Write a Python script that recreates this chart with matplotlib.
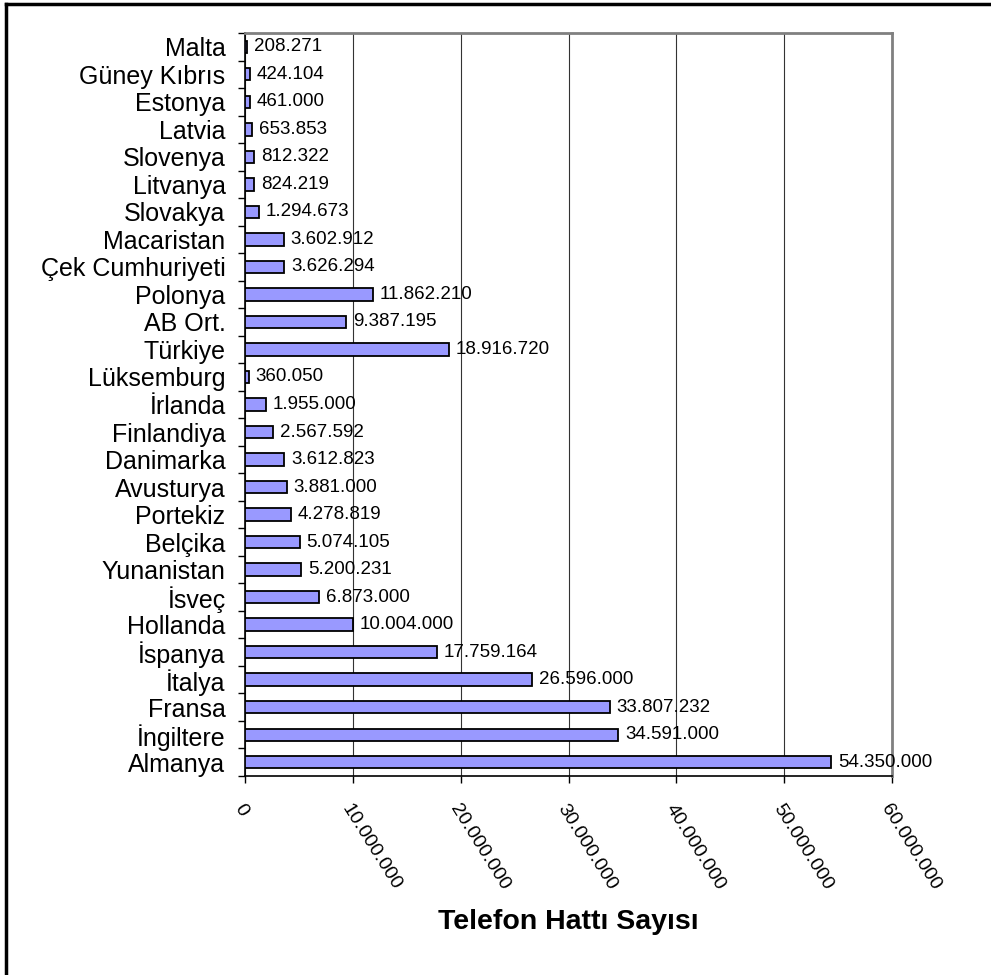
import matplotlib
matplotlib.use("Agg")
import matplotlib.pyplot as plt
from matplotlib.lines import Line2D
import numpy as np

plt.rcParams['font.family'] = ['Liberation Sans', 'DejaVu Sans']

# Countries, bottom to top
countries = ["Almanya", "İngiltere", "Fransa", "İtalya", "İspanya", "Hollanda",
             "İsveç", "Yunanistan", "Belçika", "Portekiz", "Avusturya",
             "Danimarka", "Finlandiya", "İrlanda", "Lüksemburg", "Türkiye",
             "AB Ort.", "Polonya", "Çek Cumhuriyeti", "Macaristan", "Slovakya",
             "Litvanya", "Slovenya", "Latvia", "Estonya", "Güney Kıbrıs", "Malta"]
lines = [54350000, 34591000, 33807232, 26596000, 17759164, 10004000,
         6873000, 5200231, 5074105, 4278819, 3881000,
         3612823, 2567592, 1955000, 360050, 18916720,
         9387195, 11862210, 3626294, 3602912, 1294673,
         824219, 812322, 653853, 461000, 424104, 208271]
x_ticks = [0, 10000000, 20000000, 30000000, 40000000, 50000000, 60000000]


def dotted(v):
    return f"{v:,}".replace(",", ".")


fig = plt.figure(figsize=(9.91, 9.75), dpi=100)
ax = fig.add_axes([245 / 991, 1 - 776 / 975, 647 / 991, 743 / 975])

y = np.arange(len(countries))
ax.barh(y, lines, height=0.45, color="#9999FF", edgecolor="black",
        linewidth=1.3, zorder=3)

for yi, v in zip(y, lines):
    ax.annotate(dotted(v), (v, yi), xytext=(5, 0), textcoords="offset points",
                va="center", ha="left", fontsize=13.5, zorder=4)

ax.set_xlim(0, 60000000)
ax.set_ylim(-0.5, len(countries) - 0.5)

# category ticks sit between bars, labels at bar centres
ax.set_yticks(np.arange(-0.5, len(countries), 1.0))
ax.set_yticklabels([])
ax.set_yticks(y, minor=True)
ax.set_yticklabels(countries, minor=True, fontsize=18)
ax.tick_params(axis="y", which="major", direction="out", length=5, width=1)
ax.tick_params(axis="y", which="minor", length=0, pad=14)

ax.set_xticks(x_ticks)
ax.set_xticklabels([dotted(t) for t in x_ticks], rotation=-58, ha="left",
                   va="top", rotation_mode="anchor", fontsize=14)
ax.tick_params(axis="x", direction="out", length=5, width=1, pad=13)

ax.grid(axis="x", color="#333333", linewidth=0.8, zorder=0)
ax.set_axisbelow(True)

for side in ("top", "right"):
    ax.spines[side].set_color("#808080")
    ax.spines[side].set_linewidth(2)
for side in ("left", "bottom"):
    ax.spines[side].set_color("black")
    ax.spines[side].set_linewidth(1.2)

fig.text(568 / 991, 1 - 922 / 975, "Telefon Hattı Sayısı", ha="center",
         va="center", fontsize=20.5, fontweight="bold")

# outer chart frame (left and top edges)
fig.add_artist(Line2D([6 / 991, 6 / 991], [0, 1 - 4 / 975],
                      transform=fig.transFigure, color="black", linewidth=2.5))
fig.add_artist(Line2D([6 / 991, 1], [1 - 4 / 975, 1 - 4 / 975],
                      transform=fig.transFigure, color="black", linewidth=2.5))

fig.savefig("out.png", dpi=100)
